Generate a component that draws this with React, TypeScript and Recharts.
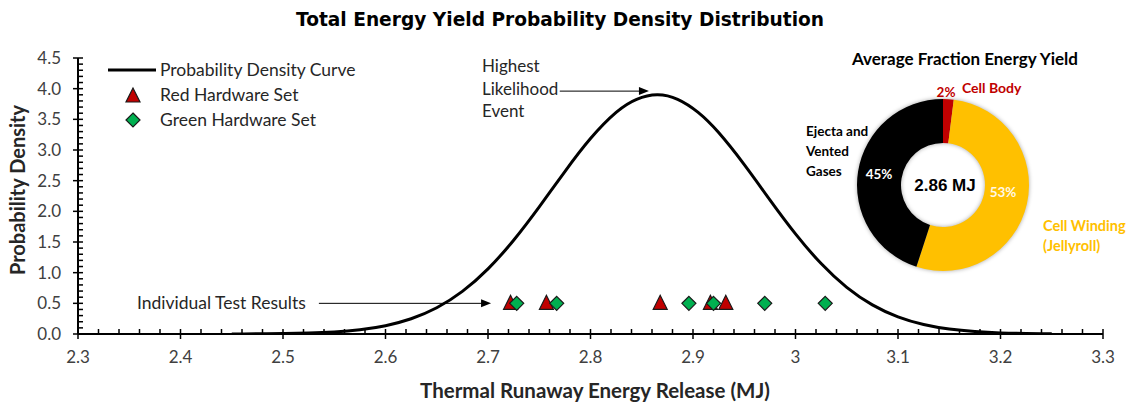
import React from "react";
import {
  ComposedChart,
  Line,
  Scatter,
  XAxis,
  YAxis,
  Legend,
  ReferenceLine,
  PieChart,
  Pie,
  Cell,
} from "recharts";

// probability density curve
const curveX = [
  2.45, 2.475, 2.5, 2.525, 2.55, 2.575, 2.6, 2.625, 2.65, 2.675, 2.7, 2.725, 2.75, 2.775, 2.8, 2.825, 2.845,
  2.865, 2.885, 2.905, 2.925, 2.95, 2.975, 3.0, 3.025, 3.05, 3.075, 3.1, 3.125, 3.15, 3.175, 3.2, 3.225, 3.25,
];
const curveY = [
  0.001, 0.003, 0.007, 0.016, 0.034, 0.07, 0.136, 0.249, 0.428, 0.695, 1.062, 1.529, 2.073, 2.649, 3.187, 3.613,
  3.826, 3.9, 3.826, 3.613, 3.284, 2.762, 2.188, 1.633, 1.148, 0.76, 0.474, 0.279, 0.154, 0.08, 0.04, 0.018,
  0.008, 0.003,
];

// individual test results
const redX = [2.722, 2.757, 2.868, 2.917, 2.932];
const redY = [0.5, 0.5, 0.5, 0.5, 0.5];
const greenX = [2.728, 2.767, 2.896, 2.92, 2.97, 3.029];
const greenY = [0.5, 0.5, 0.5, 0.5, 0.5, 0.5];

// donut
const pieNames = ["Cell Body", "Cell Winding (Jellyroll)", "Ejecta and Vented Gases"];
const pieValues = [2, 53, 45];
const pieColors = ["#C00000", "#FFC000", "#000000"];

const xTicks = Array.from({ length: 51 }, (_, i) => +(2.3 + i * 0.02).toFixed(2));
const yTicks = Array.from({ length: 46 }, (_, i) => +(i * 0.1).toFixed(1));

const curveData = curveX.map((x, i) => ({ x, y: curveY[i] }));
const redData = redX.map((x, i) => ({ x, y: redY[i] }));
const greenData = greenX.map((x, i) => ({ x, y: greenY[i] }));
const pieData = pieNames.map((name, i) => ({ name, value: pieValues[i] }));

const FONT = "Lato, 'Open Sans', sans-serif";
const BOLD = "'Liberation Sans', Arial, sans-serif";

const isMajor = (v: number, step: number) => Math.abs(v / step - Math.round(v / step)) < 1e-6;

const XTick = (props: any) => {
  const { x, y, payload } = props;
  const v = payload.value;
  const major = isMajor(v, 0.1);
  return (
    <g>
      <line x1={x} x2={x} y1={y - 5} y2={major ? y + 5 : y} stroke="#000" strokeWidth={1.5} />
      {major && (
        <text x={x} y={y + 29} textAnchor="middle" fontSize={17} fill="#404040" fontFamily={FONT}>
          {String(Math.round(v * 10) / 10)}
        </text>
      )}
    </g>
  );
};

const YTick = (props: any) => {
  const { x, y, payload } = props;
  const v = payload.value;
  const major = isMajor(v, 0.5);
  return (
    <g>
      <line x1={major ? x - 5 : x} x2={x + 5} y1={y} y2={y} stroke="#000" strokeWidth={1.5} />
      {major && (
        <text x={x - 17} y={y + 6} textAnchor="end" fontSize={17} fill="#404040" fontFamily={FONT}>
          {v.toFixed(1)}
        </text>
      )}
    </g>
  );
};

const Triangle = (props: any) => {
  const { cx, cy } = props;
  return (
    <polygon
      points={`${cx},${cy - 8} ${cx - 7},${cy + 6} ${cx + 7},${cy + 6}`}
      fill="#C00000"
      stroke="#1a1a1a"
      strokeWidth={1.2}
    />
  );
};

const Diamond = (props: any) => {
  const { cx, cy } = props;
  return (
    <polygon
      points={`${cx},${cy - 7} ${cx + 7},${cy} ${cx},${cy + 7} ${cx - 7},${cy}`}
      fill="#00B050"
      stroke="#1a1a1a"
      strokeWidth={1.2}
    />
  );
};

const Arrow = (props: any) => {
  const { x1, y1, x2, y2 } = props;
  return (
    <g>
      <line x1={x1} y1={y1} x2={x2 - 8} y2={y2} stroke="#000" strokeWidth={1} />
      <polygon points={`${x2},${y2} ${x2 - 10},${y2 - 4} ${x2 - 10},${y2 + 4}`} fill="#000" />
    </g>
  );
};

const LegendBox = () => (
  <div style={{ fontFamily: FONT, fontSize: 17.5, color: "#262626", lineHeight: "25px" }}>
    <div style={{ display: "flex", alignItems: "center" }}>
      <svg width={50} height={20}>
        <line x1={0} x2={48} y1={10} y2={10} stroke="#000" strokeWidth={3} />
      </svg>
      <span style={{ marginLeft: 2 }}>Probability Density Curve</span>
    </div>
    <div style={{ display: "flex", alignItems: "center" }}>
      <svg width={50} height={20}>
        <Triangle cx={25} cy={11} />
      </svg>
      <span style={{ marginLeft: 2 }}>Red Hardware Set</span>
    </div>
    <div style={{ display: "flex", alignItems: "center" }}>
      <svg width={50} height={20}>
        <Diamond cx={25} cy={10} />
      </svg>
      <span style={{ marginLeft: 2 }}>Green Hardware Set</span>
    </div>
  </div>
);

const abs = (left: number, top: number, extra: React.CSSProperties = {}): React.CSSProperties => ({
  position: "absolute",
  left,
  top,
  whiteSpace: "nowrap",
  ...extra,
});

export default function App() {
  return (
    <div style={{ position: "relative", width: 1131, height: 404, background: "#fff", fontFamily: FONT }}>
      <style>{`body{margin:0}`}</style>
      <ComposedChart width={1131} height={404} margin={{ top: 58, right: 28, left: 18, bottom: 40 }}>
        <XAxis
          type="number"
          dataKey="x"
          domain={[2.3, 3.3]}
          ticks={xTicks}
          interval={0}
          allowDataOverflow
          tickSize={0}
          tickMargin={0}
          tickLine={false}
          height={30}
          axisLine={{ stroke: "#000", strokeWidth: 2 }}
          tick={(p: any) => <XTick {...p} />}
        />
        <YAxis
          type="number"
          dataKey="y"
          domain={[0, 4.5]}
          ticks={yTicks}
          interval={0}
          allowDataOverflow
          tickSize={0}
          tickMargin={0}
          tickLine={false}
          width={60}
          axisLine={{ stroke: "#000", strokeWidth: 2 }}
          tick={(p: any) => <YTick {...p} />}
        />
        <Legend
          layout="vertical"
          align="center"
          verticalAlign="middle"
          wrapperStyle={{ left: 108, top: 57, width: 300, height: 80 }}
          content={() => <LegendBox />}
        />
        <Line
          data={curveData}
          type="natural"
          dataKey="y"
          stroke="#000"
          strokeWidth={3}
          dot={false}
          activeDot={false}
          isAnimationActive={false}
          name="Probability Density Curve"
        />
        <Scatter data={redData} dataKey="y" shape={(p: any) => <Triangle {...p} />} isAnimationActive={false} name="Red Hardware Set" />
        <Scatter data={greenData} dataKey="y" shape={(p: any) => <Diamond {...p} />} isAnimationActive={false} name="Green Hardware Set" />
        <ReferenceLine
          segment={[
            { x: 2.77, y: 3.96 },
            { x: 2.857, y: 3.96 },
          ]}
          shape={(p: any) => <Arrow {...p} />}
        />
        <ReferenceLine
          segment={[
            { x: 2.535, y: 0.5 },
            { x: 2.703, y: 0.5 },
          ]}
          shape={(p: any) => <Arrow {...p} />}
        />
      </ComposedChart>

      {/* titles */}
      <div style={abs(560, 19, { transform: "translate(-50%, -50%)", fontFamily: "'DejaVu Sans', sans-serif", fontWeight: 700, fontSize: 18.6, color: "#000" })}>
        Total Energy Yield Probability Density Distribution
      </div>
      <div style={abs(595, 390, { transform: "translate(-50%, -50%)", fontWeight: 700, fontSize: 20.5, color: "#262626" })}>
        Thermal Runaway Energy Release (MJ)
      </div>
      <div
        style={abs(17, 190, {
          transform: "translate(-50%, -50%) rotate(-90deg)",
          fontWeight: 700,
          fontSize: 20,
          color: "#262626",
        })}
      >
        Probability Density
      </div>

      {/* annotations */}
      <div style={abs(482, 55, { fontSize: 17, lineHeight: "22.5px", color: "#262626" })}>
        Highest
        <br />
        Likelihood
        <br />
        Event
      </div>
      <div style={abs(137, 292, { fontSize: 17.5, color: "#262626" })}>Individual Test Results</div>

      {/* donut inset */}
      <div style={abs(852, 48, { fontWeight: 700, fontSize: 17, color: "#000" })}>Average Fraction Energy Yield</div>
      <div style={abs(843, 85, { filter: "drop-shadow(0 0 2px rgba(0,0,0,0.35))" })}>
        <PieChart width={200} height={200} margin={{ top: 0, right: 0, bottom: 0, left: 0 }}>
          <Pie
            data={pieData}
            dataKey="value"
            cx={100}
            cy={100}
            innerRadius={42}
            outerRadius={86}
            startAngle={90}
            endAngle={-270}
            stroke="none"
            isAnimationActive={false}
          >
            {pieData.map((d, i) => (
              <Cell key={d.name} fill={pieColors[i]} />
            ))}
          </Pie>
        </PieChart>
      </div>
      <div style={abs(945, 186, { transform: "translate(-50%, -50%)", fontFamily: BOLD, fontWeight: 700, fontSize: 17, color: "#000" })}>
        2.86 MJ
      </div>
      <div style={abs(879, 174, { transform: "translate(-50%, -50%)", fontWeight: 700, fontSize: 13.5, color: "#fff" })}>45%</div>
      <div style={abs(1003, 192, { transform: "translate(-50%, -50%)", fontWeight: 700, fontSize: 13.5, color: "#FFF8E5" })}>53%</div>
      <div style={abs(946, 92, { transform: "translate(-50%, -50%)", fontWeight: 700, fontSize: 13.5, color: "#C00000" })}>2%</div>
      <div style={abs(962, 79, { fontWeight: 700, fontSize: 14, color: "#C00000" })}>Cell Body</div>
      <div style={abs(806, 121, { fontWeight: 700, fontSize: 13.5, lineHeight: "20px", color: "#000" })}>
        Ejecta and
        <br />
        Vented
        <br />
        Gases
      </div>
      <div style={abs(1043, 216, { fontWeight: 700, fontSize: 14.5, lineHeight: "20px", color: "#FFC000" })}>
        Cell Winding
        <br />
        (Jellyroll)
      </div>
    </div>
  );
}
